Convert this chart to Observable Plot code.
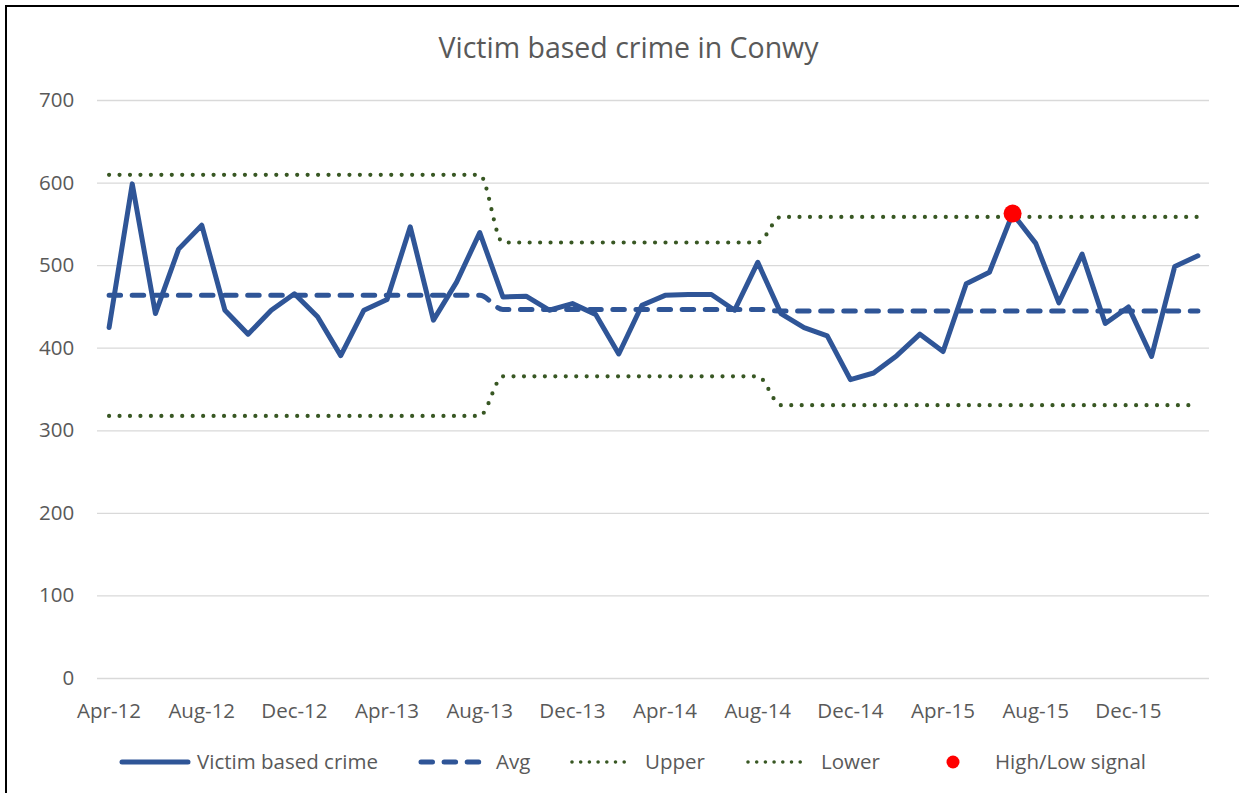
<!DOCTYPE html>
<html>
<head>
<meta charset="utf-8">
<script src="https://cdn.jsdelivr.net/npm/d3@7"></script>
<script src="https://cdn.jsdelivr.net/npm/@observablehq/plot@0.6"></script>
<style>
  html, body { margin: 0; padding: 0; background: #fff; }
  #wrap { position: relative; width: 1239px; height: 793px; overflow: hidden; background: #fff; font-family: "Open Sans", sans-serif; color: #595959; }
  #frame { position: absolute; left: 5px; top: 5px; width: 1300px; height: 900px; border-top: 2px solid #000; border-left: 2px solid #000; }
  #title { position: absolute; left: 0; top: 33px; width: 1257px; text-align: center; font-size: 28.5px; line-height: 28.5px; white-space: nowrap; }
  #chart { position: absolute; left: 0; top: 0; }
  .leg { position: absolute; top: 751px; font-size: 20.5px; line-height: 20.5px; white-space: nowrap; }
  .sw { position: absolute; top: 752px; }
</style>
</head>
<body>
<div id="wrap">
  <div id="frame"></div>
  <div id="title">Victim based crime in Conwy</div>
  <div id="chart"></div>
  <div id="legend"></div>
</div>
<script>
const months = ["Apr-12","May-12","Jun-12","Jul-12","Aug-12","Sep-12","Oct-12","Nov-12","Dec-12","Jan-13","Feb-13","Mar-13",
  "Apr-13","May-13","Jun-13","Jul-13","Aug-13","Sep-13","Oct-13","Nov-13","Dec-13","Jan-14","Feb-14","Mar-14",
  "Apr-14","May-14","Jun-14","Jul-14","Aug-14","Sep-14","Oct-14","Nov-14","Dec-14","Jan-15","Feb-15","Mar-15",
  "Apr-15","May-15","Jun-15","Jul-15","Aug-15","Sep-15","Oct-15","Nov-15","Dec-15","Jan-16","Feb-16","Mar-16"];
const victim = [425,599,442,520,549,446,417,446,466,438,391,446,
  459,547,434,480,540,462,463,446,454,441,393,452,
  464,465,465,446,504,442,425,415,362,370,391,417,
  396,478,492,563,527,455,514,430,450,390,499,512];
const avg = [464,464,464,464,464,464,464,464,464,464,464,464,
  464,464,464,464,464,447,447,447,447,447,447,447,
  447,447,447,447,447,445,445,445,445,445,445,445,
  445,445,445,445,445,445,445,445,445,445,445,445];
const upper = [610,610,610,610,610,610,610,610,610,610,610,610,
  610,610,610,610,610,528,528,528,528,528,528,528,
  528,528,528,528,528,559,559,559,559,559,559,559,
  559,559,559,559,559,559,559,559,559,559,559,559];
const lower = [318,318,318,318,318,318,318,318,318,318,318,318,
  318,318,318,318,318,366,366,366,366,366,366,366,
  366,366,366,366,366,331,331,331,331,331,331,331,
  331,331,331,331,331,331,331,331,331,331,331,331];
const xTickLabels = ["Apr-12","Aug-12","Dec-12","Apr-13","Aug-13","Dec-13","Apr-14","Aug-14","Dec-14","Apr-15","Aug-15","Dec-15"];
const yTicks = [0,100,200,300,400,500,600,700];
const seriesNames = ["Victim based crime","Avg","Upper","Lower","High/Low signal"];

const BLUE = "#2F5597", GREEN = "#385723", RED = "#FF0000";

const rows = months.map((m, i) => ({i, month: m, victim: victim[i], avg: avg[i], upper: upper[i], lower: lower[i]}));
const signals = rows.filter(d => d.victim > d.upper || d.victim < d.lower);

const chart = Plot.plot({
  width: 1239, height: 740,
  marginLeft: 97, marginRight: 30, marginTop: 100, marginBottom: 62,
  x: {type: "linear", domain: [-0.5, months.length - 0.5]},
  y: {domain: [0, 700]},
  style: {fontFamily: "'Open Sans', sans-serif", fontSize: "20.5px", color: "#595959", background: "transparent", overflow: "visible"},
  marks: [
    Plot.ruleY(yTicks, {stroke: "#d9d9d9", strokeWidth: 1.3}),
    Plot.axisY({ticks: yTicks, tickSize: 0, tickPadding: 23.3, label: null, fill: "#595959"}),
    Plot.axisX({ticks: xTickLabels.map(l => months.indexOf(l)), tickFormat: i => months[i], tickSize: 0, tickPadding: 25, label: null, fill: "#595959"}),
    Plot.line(rows, {x: "i", y: "victim", stroke: BLUE, strokeWidth: 5, strokeLinejoin: "round", strokeLinecap: "round"}),
    Plot.line(rows, {x: "i", y: "avg", stroke: BLUE, strokeWidth: 5, strokeDasharray: "11.5,11.6", strokeLinecap: "round", curve: "monotone-x"}),
    Plot.line(rows, {x: "i", y: "upper", stroke: GREEN, strokeWidth: 4.2, strokeDasharray: "0,10.45", strokeLinecap: "round", curve: "monotone-x"}),
    Plot.line(rows, {x: "i", y: "lower", stroke: GREEN, strokeWidth: 4.2, strokeDasharray: "0,10.45", strokeLinecap: "round", curve: "monotone-x"}),
    Plot.dot(signals, {x: "i", y: "victim", r: 9, fill: RED, stroke: null})
  ]
});
document.getElementById("chart").appendChild(chart);

// Legend (HTML)
const legend = document.getElementById("legend");
const legItems = [
  {name: seriesNames[0], sx: 120, sw: 70, tx: 197, kind: "solid"},
  {name: seriesNames[1], sx: 419, sw: 62, tx: 496, kind: "dash"},
  {name: seriesNames[2], sx: 570, sw: 62, tx: 645, kind: "dot"},
  {name: seriesNames[3], sx: 746, sw: 64, tx: 821, kind: "dot"},
  {name: seriesNames[4], sx: 946, sw: 14, tx: 995, kind: "point"}
];
for (const it of legItems) {
  const svg = d3.create("svg").attr("class", "sw").attr("width", it.sw + 10).attr("height", 20)
    .style("left", (it.sx - 5) + "px");
  if (it.kind === "point") {
    svg.append("circle").attr("cx", 5 + it.sw / 2).attr("cy", 10).attr("r", 6.5).attr("fill", RED);
  } else {
    const ln = svg.append("line").attr("x1", 7).attr("x2", 5 + it.sw - 2).attr("y1", 10).attr("y2", 10)
      .attr("stroke-linecap", "round");
    if (it.kind === "solid") ln.attr("stroke", BLUE).attr("stroke-width", 5);
    if (it.kind === "dash") ln.attr("stroke", BLUE).attr("stroke-width", 5).attr("stroke-dasharray", "11.5,11.6");
    if (it.kind === "dot") ln.attr("stroke", GREEN).attr("stroke-width", 3.6).attr("stroke-dasharray", "0,8.7");
  }
  legend.appendChild(svg.node());
  const t = document.createElement("div");
  t.className = "leg";
  t.style.left = it.tx + "px";
  t.textContent = it.name;
  legend.appendChild(t);
}
</script>
</body>
</html>
